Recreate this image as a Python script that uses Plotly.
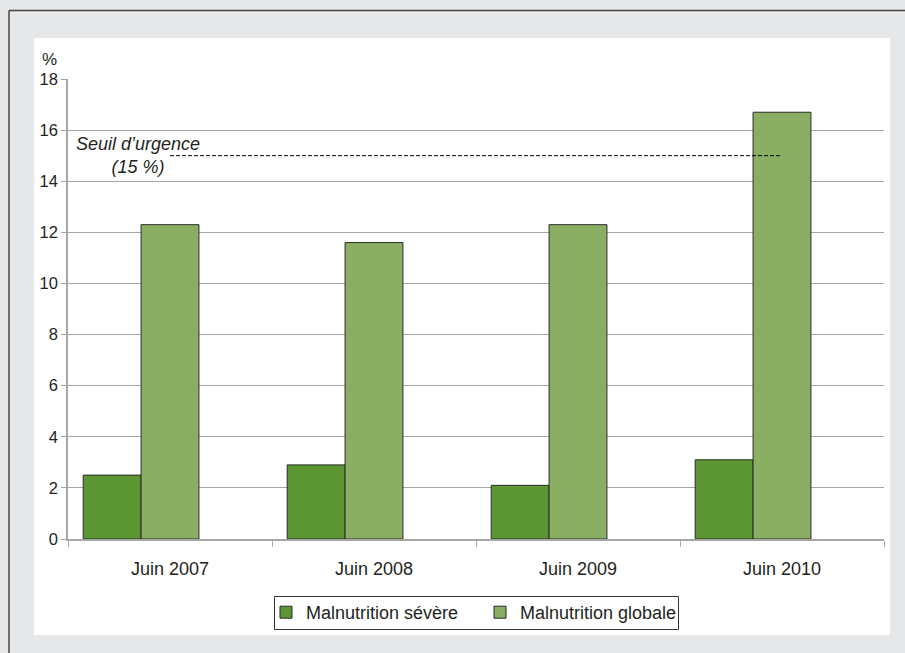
import plotly.graph_objects as go

categories = ["Juin 2007", "Juin 2008", "Juin 2009", "Juin 2010"]
severe = [2.5, 2.9, 2.1, 3.1]
globale = [12.3, 11.6, 12.3, 16.7]
series_names = ["Malnutrition sévère", "Malnutrition globale"]
threshold = 15
threshold_label = "Seuil d’urgence<br>(15 %)"
y_ticks = [0, 2, 4, 6, 8, 10, 12, 14, 16, 18]

FONT = "Liberation Sans, Arial, sans-serif"
TXT = "#231f20"
GRID = "#a6a6a6"

xs = list(range(len(categories)))
bar_w = 58 / 204.5
off0 = -87 / 204.5

fig = go.Figure()
fig.add_trace(go.Bar(x=xs, y=severe, name=series_names[0], width=bar_w, offset=off0,
                     marker=dict(color="#5b9632", line=dict(color="#2b2b2b", width=1))))
fig.add_trace(go.Bar(x=xs, y=globale, name=series_names[1], width=bar_w, offset=off0 + bar_w,
                     marker=dict(color="#8aae62", line=dict(color="#2b2b2b", width=1))))

L, R, T, B = 68, 21, 79, 114
W, H = 905, 653
pw, ph = W - L - R, H - T - B
def px(v): return (v - L) / pw
def py(v): return (H - B - v) / ph

shapes = [
    dict(type="rect", xref="paper", yref="paper", x0=px(34), x1=px(890), y0=py(635), y1=py(38),
         fillcolor="white", line=dict(width=0), layer="below"),
    dict(type="line", xref="paper", yref="paper", x0=px(9), x1=px(905), y0=py(10.5), y1=py(10.5),
         line=dict(color="#444", width=1.5)),
    dict(type="line", xref="paper", yref="paper", x0=px(9), x1=px(9), y0=py(10.5), y1=py(653),
         line=dict(color="#444", width=1.5)),
    dict(type="rect", xref="paper", yref="paper", x0=px(274.5), x1=px(678.5), y0=py(629.5), y1=py(596.5),
         fillcolor="white", line=dict(color="#333", width=1), layer="below"),
    dict(type="line", xref="x", yref="y", x0=xs[0], x1=xs[-1], y0=threshold, y1=threshold,
         line=dict(color="black", width=1, dash="4px,2px"), layer="above"),
]

fig.update_layout(
    width=W, height=H, margin=dict(l=L, r=R, t=T, b=B),
    paper_bgcolor="#e6e7e8", plot_bgcolor="white",
    barmode="overlay", shapes=shapes,
    font=dict(family=FONT, size=18, color=TXT),
    xaxis=dict(range=[-0.5, len(categories) - 0.5], tickvals=xs, ticktext=categories,
               ticks="", showgrid=False, showline=True, linecolor=GRID, linewidth=1.5,
               zeroline=False, ticklabelstandoff=13, fixedrange=True,
               minor=dict(tickvals=[i - 0.5 for i in range(len(categories) + 1)],
                          ticks="outside", ticklen=6, tickcolor=GRID, tickwidth=1, showgrid=False),
               tickfont=dict(size=18, color=TXT)),
    yaxis=dict(range=[0, 18], tickvals=y_ticks, showgrid=True, gridcolor=GRID, gridwidth=1,
               showline=True, linecolor=GRID, linewidth=1.5, ticks="outside", ticklen=5,
               tickcolor=GRID, zeroline=False, tickfont=dict(size=16.5, color=TXT)),
    legend=dict(orientation="h", x=px(266), y=py(612.5), xanchor="left", yanchor="middle",
                bgcolor="rgba(0,0,0,0)", borderwidth=0,
                entrywidth=169, entrywidthmode="pixels",
                font=dict(size=18, color=TXT), traceorder="normal"),
    annotations=[
        dict(text="%", xref="paper", yref="paper", x=px(40), y=py(48), showarrow=False,
             font=dict(size=17, color=TXT)),
        dict(text="<i>" + threshold_label + "</i>", xref="x", yref="y", x=-0.158, y=threshold,
             showarrow=False, align="center", font=dict(size=18, color=TXT)),
    ],
)

fig.write_html("out.html")
